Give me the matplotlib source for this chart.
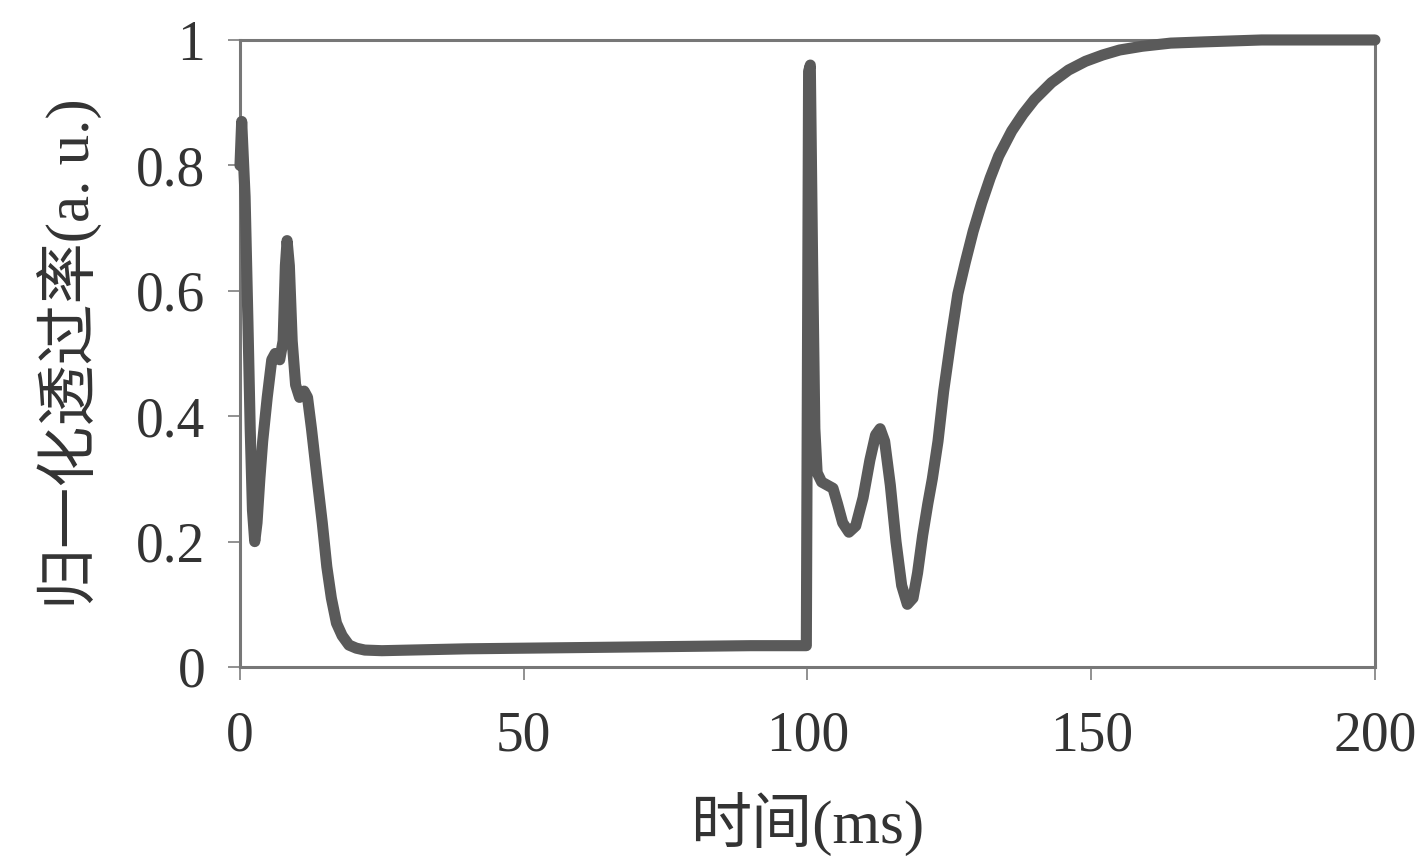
import matplotlib
matplotlib.use("Agg")
import matplotlib.pyplot as plt

# 时间 (ms) 与归一化透过率
time_ms = [0, 0.3, 0.9, 1.4, 1.8, 2.2, 2.6, 3.0, 3.5, 4.0, 4.8, 5.6, 6.2, 7.0,
           7.6, 8.0, 8.3, 8.7, 9.2, 9.8, 10.5, 11.3, 11.9, 12.6, 13.6, 14.5,
           15.3, 16.1, 17.0, 18.0, 19.2, 20.5, 22, 25, 30, 40, 50, 60, 70, 80,
           90, 99.8, 100.2, 100.5, 100.9, 101.3, 101.7, 102.5, 103.5, 104.5,
           105.3, 106.2, 107.3, 108.5, 109.8, 111, 112, 112.8, 113.6, 114.6,
           115.6, 116.6, 117.6, 118.6, 119.4, 120.3, 121.2, 122, 123, 124,
           125.4, 126.5, 127.8, 129.2, 130.7, 132.2, 133.7, 136, 138, 140,
           143, 146, 149, 152, 155, 159, 164, 170, 180, 200]
transmit = [0.80, 0.87, 0.75, 0.55, 0.38, 0.25, 0.20, 0.23, 0.30, 0.36, 0.43,
            0.49, 0.50, 0.49, 0.52, 0.64, 0.68, 0.64, 0.52, 0.45, 0.43, 0.44,
            0.43, 0.38, 0.30, 0.23, 0.16, 0.11, 0.07, 0.05, 0.035, 0.03, 0.027,
            0.026, 0.027, 0.029, 0.030, 0.031, 0.032, 0.033, 0.034, 0.034,
            0.95, 0.96, 0.65, 0.38, 0.31, 0.295, 0.29, 0.285, 0.26, 0.23,
            0.215, 0.225, 0.27, 0.33, 0.37, 0.38, 0.36, 0.29, 0.20, 0.13, 0.10,
            0.11, 0.15, 0.21, 0.26, 0.30, 0.36, 0.44, 0.53, 0.595, 0.645,
            0.695, 0.74, 0.78, 0.815, 0.855, 0.882, 0.905, 0.932, 0.952,
            0.966, 0.976, 0.984, 0.99, 0.995, 0.997, 1.0, 1.0]

xticks = [0, 50, 100, 150, 200]
yticks = [0, 0.2, 0.4, 0.6, 0.8, 1]
ytick_labels = ["0", "0.2", "0.4", "0.6", "0.8", "1"]

fig = plt.figure(figsize=(14.15, 8.56), dpi=100)
ax = fig.add_axes([0.1696, 0.2208, 0.8021, 0.7325])

ax.plot(time_ms, transmit, color="#5a5a5a", lw=8, solid_joinstyle="round",
        solid_capstyle="round", clip_on=False, zorder=3)

ax.set_xlim(0, 200)
ax.set_ylim(0, 1)
ax.set_xticks(xticks)
ax.set_yticks(yticks)
ax.set_yticklabels(ytick_labels)

for s in ax.spines.values():
    s.set_color("#777777")
    s.set_linewidth(2.2)

ax.tick_params(direction="out", length=9, width=1.3, color="#888888",
               labelcolor="#333333")
ax.tick_params(axis="x", pad=22)
ax.tick_params(axis="y", pad=16)
for lab in ax.get_xticklabels() + ax.get_yticklabels():
    lab.set_family("Liberation Serif")
    lab.set_fontsize(40)

lab_font = ["Liberation Serif", "Noto Sans CJK SC"]
ax.set_xlabel("时间(ms)", family=lab_font, fontsize=44, color="#333333",
              labelpad=22)
ax.set_ylabel("归一化透过率(a. u.)", family=lab_font, fontsize=44,
              color="#333333", labelpad=24)

fig.savefig("out.png", dpi=100, facecolor="white")
